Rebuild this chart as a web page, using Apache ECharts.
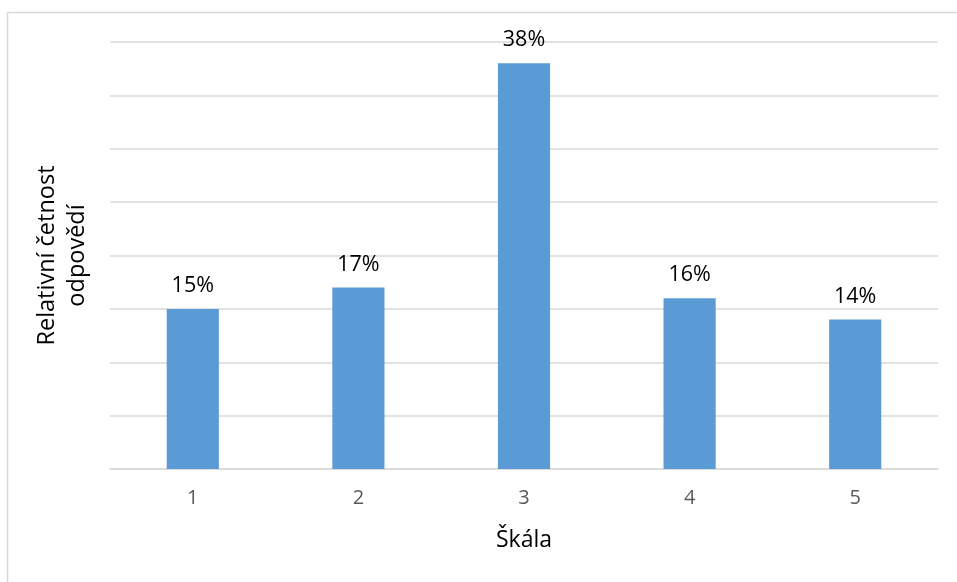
<!DOCTYPE html>
<html>
<head>
<meta charset="utf-8">
<script src="https://cdn.jsdelivr.net/npm/echarts@6/dist/echarts.min.js"></script>
<style>
  html, body { margin: 0; padding: 0; background: #fff; }
  #chart { width: 957px; height: 582px; }
</style>
</head>
<body>
<div id="chart"></div>
<script>
// Rating scale points and the share of answers for each
const categories = ['1', '2', '3', '4', '5'];
const shares = [15, 17, 38, 16, 14];

const FONT = '"Open Sans", "Noto Sans", sans-serif';

const chart = echarts.init(document.getElementById('chart'), null, { renderer: 'canvas' });
chart.setOption({
  animation: false,
  backgroundColor: '#ffffff',
  graphic: [{
    type: 'rect',
    shape: { x: 7.5, y: 12.5, width: 1000, height: 600 },
    style: { fill: 'none', stroke: '#d9d9d9', lineWidth: 1.5 },
    silent: true
  }],
  grid: { left: 110, right: 19, top: 42, bottom: 113 },
  xAxis: {
    type: 'category',
    data: categories,
    name: 'Škála',
    nameLocation: 'middle',
    nameGap: 60,
    nameTextStyle: { fontFamily: FONT, fontSize: 23, color: '#000' },
    axisLine: { show: true, lineStyle: { color: '#d9d9d9', width: 1.5 } },
    axisTick: { show: false },
    axisLabel: { fontFamily: FONT, fontSize: 20, color: '#595959', margin: 19 }
  },
  yAxis: {
    type: 'value',
    min: 0,
    max: 40,
    interval: 5,
    name: 'Relativní četnost\nodpovědí',
    nameLocation: 'middle',
    nameGap: 18,
    nameRotate: 90,
    nameTextStyle: { fontFamily: FONT, fontSize: 23.5, color: '#000', lineHeight: 30 },
    axisLine: { show: false },
    axisTick: { show: false },
    axisLabel: { show: false },
    splitLine: { lineStyle: { color: '#d9d9d9', width: 1.5 } }
  },
  series: [{
    type: 'bar',
    data: shares,
    barWidth: '31.5%',
    itemStyle: { color: '#5b9bd5' },
    label: {
      show: true,
      position: 'top',
      distance: 12,
      formatter: p => p.value + '%',
      fontFamily: FONT,
      fontSize: 21.5,
      color: '#000'
    }
  }]
});
</script>
</body>
</html>
